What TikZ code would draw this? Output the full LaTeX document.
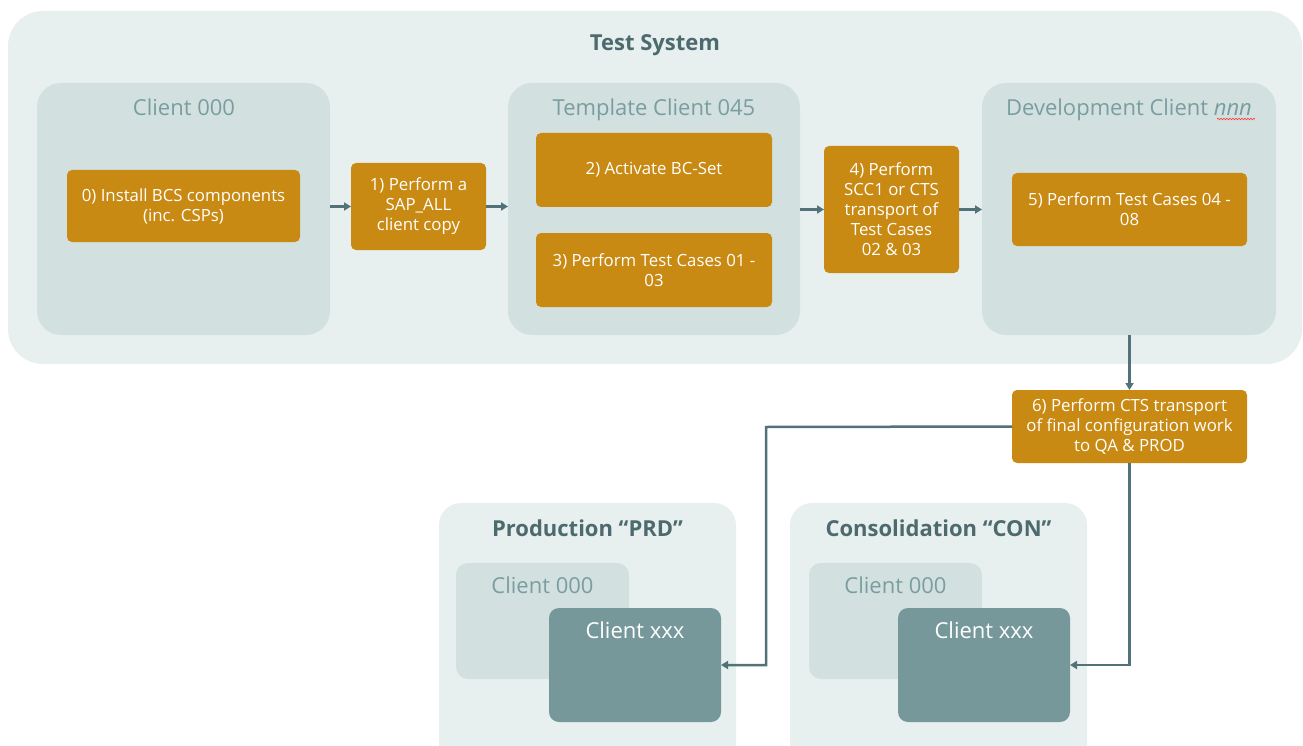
\documentclass[tikz,border=0pt]{standalone}
\usepackage{fontspec}
\setmainfont{Open Sans}
\usetikzlibrary{arrows.meta,decorations.pathmorphing}
\definecolor{outerbg}{HTML}{E8F0EF}
\definecolor{innerbg}{HTML}{D3E0E0}
\definecolor{orangec}{HTML}{C98A14}
\definecolor{titlec}{HTML}{7A9EA0}
\definecolor{darkt}{HTML}{4D6A6E}
\definecolor{xxxc}{HTML}{76989B}
\definecolor{arrowc}{HTML}{52727A}
\begin{document}
\begin{tikzpicture}[x=1pt,y=-1pt,
  systembox/.style={fill=outerbg,draw=none,rounded corners=35pt,inner sep=0pt,outer sep=0pt},
  sysbox/.style={fill=outerbg,draw=none,rounded corners=22pt,inner sep=0pt,outer sep=0pt},
  clientbox/.style={fill=innerbg,draw=none,rounded corners=24pt,inner sep=0pt,outer sep=0pt},
  smallclient/.style={fill=innerbg,draw=none,rounded corners=12pt,inner sep=0pt,outer sep=0pt},
  xxxbox/.style={fill=xxxc,draw=none,rounded corners=10pt,inner sep=0pt,outer sep=0pt},
  orangebox/.style={fill=orangec,draw=none,rounded corners=5pt,inner sep=2pt,outer sep=0pt,
    text=white,align=center,font=\fontsize{16.8}{20}\selectfont},
  clienttitle/.style={text=titlec,font=\fontsize{22}{26}\selectfont,inner sep=0pt,text height=16pt,text depth=0pt},
  systitle/.style={text=darkt,font=\fontsize{22}{26}\selectfont\bfseries,inner sep=0pt,text height=16pt,text depth=0pt},
  xxxtitle/.style={text=white,font=\fontsize{22}{26}\selectfont,inner sep=0pt,text height=16pt,text depth=0pt},
  arr/.style={draw=arrowc,line width=2.5pt,-{Triangle[length=7pt,width=8pt]}}
]
\useasboundingbox (0,0) rectangle (1303,746);
\clip (0,0) rectangle (1303,746);

% Test system
\node[systembox,minimum width=1294pt,minimum height=353pt] (ts) at (655,187.5) {};
\node[systitle] (tst) at (655,43) {Test System};

% client containers
\node[clientbox,minimum width=293pt,minimum height=252pt] (c000) at (183.5,209) {};
\node[clienttitle] (c000t) at (184,108) {Client 000};
\node[clientbox,minimum width=292pt,minimum height=252pt] (c045) at (654,209) {};
\node[clienttitle] (c045t) at (654,108) {Template Client 045};
\node[clientbox,minimum width=294pt,minimum height=252pt] (cdev) at (1129,209) {};
\node[clienttitle] (cdevt) at (1129,108) {Development Client \textit{nnn}};
\coordinate (wavyA) at (1217,119);
\coordinate (wavyB) at (1255,119);
\draw[red!80,line width=0.6pt,decorate,decoration={snake,amplitude=0.8pt,segment length=3pt}] (wavyA) -- (wavyB);

% steps
\node[orangebox,minimum width=233pt,minimum height=72pt] (b0) at (183.5,206) {0) Install BCS components\\(inc. CSPs)};
\node[orangebox,minimum width=135pt,minimum height=87pt] (b1) at (418.5,206.5) {1) Perform a\\SAP\_ALL\\client copy};
\node[orangebox,minimum width=236pt,minimum height=74pt] (b2) at (654,170) {2) Activate BC-Set};
\node[orangebox,minimum width=236pt,minimum height=74pt] (b3) at (654,270) {3) Perform Test Cases 01 -\\03};
\node[orangebox,minimum width=135pt,minimum height=127pt] (b4) at (891.5,209.5) {4) Perform\\SCC1 or CTS\\transport of\\Test Cases\\02 \& 03};
\node[orangebox,minimum width=235pt,minimum height=73pt] (b5) at (1129.5,209.5) {5) Perform Test Cases 04 -\\08};
\node[orangebox,minimum width=235pt,minimum height=73pt] (b6) at (1129.5,426.5) {6) Perform CTS transport\\of final configuration work\\to QA \& PROD};

% bottom systems
\node[sysbox,minimum width=297pt,minimum height=267pt] (prd) at (587.5,636.5) {};
\node[systitle] (prdt) at (587.5,528) {Production “PRD”};
\node[smallclient,minimum width=173pt,minimum height=116pt] (p000) at (542.5,621) {};
\node[clienttitle] (p000t) at (542.5,585) {Client 000};
\node[xxxbox,minimum width=172pt,minimum height=114pt] (pxxx) at (635,665) {};
\node[xxxtitle] (pxxxt) at (635,630) {Client xxx};

\node[sysbox,minimum width=297pt,minimum height=267pt] (con) at (938.5,636.5) {};
\node[systitle] (cont) at (938.5,528) {Consolidation “CON”};
\node[smallclient,minimum width=173pt,minimum height=116pt] (k000) at (895.5,621) {};
\node[clienttitle] (k000t) at (895.5,585) {Client 000};
\node[xxxbox,minimum width=172pt,minimum height=114pt] (kxxx) at (984,665) {};
\node[xxxtitle] (kxxxt) at (984,630) {Client xxx};

% connectors
\draw[arr] (c000.east |- b1.west) -- (b1.west);
\draw[arr] (b1.east) -- (b1.east -| c045.west);
\draw[arr] (b4.west -| c045.east) -- (b4.west);
\draw[arr] (b4.east) -- (b4.east -| cdev.west);
\draw[arr] (b6.north |- cdev.south) -- (b6.north);
\coordinate (bend) at (766,427);
\draw[arr] (b6.west) -- (bend) |- (pxxx.east);
\draw[arr] (b6.south) |- (kxxx.east);
\end{tikzpicture}
\end{document}
